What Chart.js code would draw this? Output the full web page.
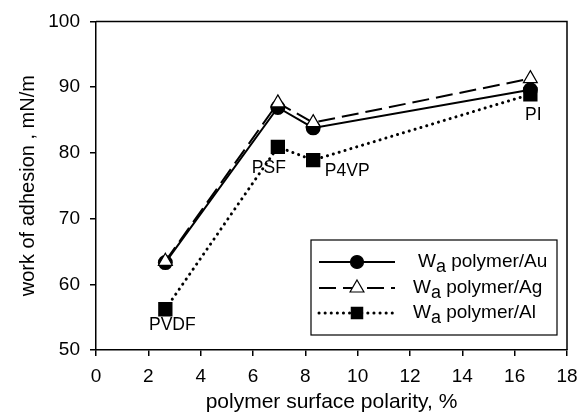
<!DOCTYPE html>
<html>
<head>
<meta charset="utf-8">
<script src="https://cdn.jsdelivr.net/npm/chart.js@4"></script>
<style>
  html, body { margin: 0; padding: 0; background: #fff; }
  #wrap { width: 587px; height: 417px; }
</style>
</head>
<body>
<div id="wrap"><canvas id="chart" width="587" height="417"></canvas></div>
<script>
// polymer data
const polymers = ['PVDF', 'PSF', 'P4VP', 'PI'];
const polarity = [2.65, 6.95, 8.3, 16.6];
const wAu = [63.3, 86.9, 83.8, 89.6];
const wAg = [63.5, 87.6, 84.6, 91.3];
const wAl = [56.2, 80.9, 78.9, 88.9];
const seriesNames = ['polymer/Au', 'polymer/Ag', 'polymer/Al'];

const FONT = 'Liberation Sans, Arial, sans-serif';

function toPoints(ys) {
    return polarity.map((x, i) => ({ x: x, y: ys[i] }));
}

// label offsets from the Al point (px)
const labelOffsets = [[7, 16], [-9, 21], [34, 11], [3, 21]];

// frame, point labels, legend box
const extras = {
    id: 'extras',
    afterDatasetsDraw(chart) {
        const { ctx, chartArea: a, scales } = chart;
        ctx.save();
        ctx.strokeStyle = '#000';
        ctx.lineWidth = 1.5;
        ctx.beginPath();
        ctx.moveTo(a.left, a.top);
        ctx.lineTo(a.right, a.top);
        ctx.lineTo(a.right, a.bottom);
        ctx.stroke();

        // polymer names
        ctx.fillStyle = '#000';
        ctx.font = '17.5px ' + FONT;
        ctx.textAlign = 'center';
        ctx.textBaseline = 'middle';
        polymers.forEach((p, i) => {
            const px = scales.x.getPixelForValue(polarity[i]);
            const py = scales.y.getPixelForValue(wAl[i]);
            ctx.fillText(p, px + labelOffsets[i][0], py + labelOffsets[i][1]);
        });

        // legend
        const box = { x: 311, y: 240, w: 246, h: 95 };
        ctx.fillStyle = '#fff';
        ctx.fillRect(box.x, box.y, box.w, box.h);
        ctx.lineWidth = 1.2;
        ctx.strokeRect(box.x, box.y, box.w, box.h);
        const ds = chart.data.datasets;
        const rows = [262, 288, 313];
        ds.forEach((d, r) => {
            const y = rows[r];
            ctx.save();
            ctx.strokeStyle = '#000';
            ctx.lineWidth = d.borderWidth;
            ctx.lineCap = d.borderCapStyle || 'butt';
            ctx.setLineDash(d.legendDash || []);
            ctx.beginPath();
            ctx.moveTo(319, y);
            ctx.lineTo(395, y);
            ctx.stroke();
            ctx.restore();
            drawMarker(ctx, d.pointStyle, 357, y, d.pointRadius, d.pointBackgroundColor);
            ctx.fillStyle = '#000';
            ctx.textAlign = 'left';
            ctx.textBaseline = 'middle';
            ctx.font = '19px ' + FONT;
            const tx = r === 0 ? 418 : 413;
            ctx.fillText('W', tx, y);
            const ww = ctx.measureText('W').width;
            ctx.font = '18px ' + FONT;
            ctx.fillText('a', tx + ww, y + 5);
            const aw = ctx.measureText('a').width;
            ctx.font = '19px ' + FONT;
            ctx.fillText(' ' + seriesNames[r], tx + ww + aw, y);
        });
        ctx.restore();
    }
};

function drawMarker(ctx, style, x, y, r, fill) {
    ctx.save();
    ctx.fillStyle = fill;
    ctx.strokeStyle = '#000';
    ctx.lineWidth = 1.2;
    ctx.beginPath();
    if (style === 'circle') {
        ctx.arc(x, y, r, 0, Math.PI * 2);
    } else if (style === 'rect') {
        const s = r * Math.SQRT2 / 2;
        ctx.rect(x - s, y - s, 2 * s, 2 * s);
    } else {
        ctx.moveTo(x, y - r);
        ctx.lineTo(x + r * 0.866, y + r * 0.5);
        ctx.lineTo(x - r * 0.866, y + r * 0.5);
        ctx.closePath();
    }
    ctx.fill();
    ctx.stroke();
    ctx.restore();
}

new Chart(document.getElementById('chart'), {
    type: 'scatter',
    data: {
        datasets: [
            {
                label: 'polymer/Au',
                data: toPoints(wAu),
                showLine: true,
                borderColor: '#000',
                borderWidth: 2,
                pointStyle: 'circle',
                pointRadius: 6.5,
                pointBackgroundColor: '#000',
                pointBorderColor: '#000',
                order: 1
            },
            {
                label: 'polymer/Ag',
                data: toPoints(wAg),
                showLine: true,
                borderColor: '#000',
                borderWidth: 2,
                borderDash: [17, 7],
                legendDash: [17, 7],
                pointStyle: 'triangle',
                pointRadius: 8,
                pointBackgroundColor: '#fff',
                pointBorderColor: '#000',
                pointBorderWidth: 1.2,
                order: 0
            },
            {
                label: 'polymer/Al',
                data: toPoints(wAl),
                showLine: true,
                borderColor: '#000',
                borderWidth: 3,
                borderDash: [0.1, 6],
                legendDash: [0.1, 6],
                borderCapStyle: 'round',
                pointStyle: 'rect',
                pointRadius: 8,
                pointBackgroundColor: '#000',
                pointBorderColor: '#000',
                order: 2
            }
        ]
    },
    options: {
        responsive: false,
        animation: false,
        layout: { padding: { top: 19, right: 20, left: 0, bottom: 0 } },
        plugins: { legend: { display: false }, tooltip: { enabled: false } },
        scales: {
            x: {
                type: 'linear',
                min: 0, max: 18,
                afterFit(s) { s.height = 67; },
                ticks: { stepSize: 2, color: '#000', font: { family: FONT, size: 19 }, padding: 9, maxRotation: 0 },
                grid: { drawOnChartArea: false, drawTicks: true, tickLength: 6, color: '#000', lineWidth: 1.5 },
                border: { color: '#000', width: 1.5 },
                title: { display: true, text: 'polymer surface polarity, %', color: '#000', font: { family: FONT, size: 21 }, padding: { top: 0, bottom: 2 } }
            },
            y: {
                min: 50, max: 100,
                afterFit(s) { s.width = 96; },
                ticks: { stepSize: 10, color: '#000', font: { family: FONT, size: 19 }, padding: 10 },
                grid: { drawOnChartArea: false, drawTicks: true, tickLength: 6, color: '#000', lineWidth: 1.5 },
                border: { color: '#000', width: 1.5 },
                title: { display: true, text: 'work of adhesion , mN/m', color: '#000', font: { family: FONT, size: 20 }, padding: { top: 16, bottom: 0 } }
            }
        }
    },
    plugins: [extras]
});
</script>
</body>
</html>
